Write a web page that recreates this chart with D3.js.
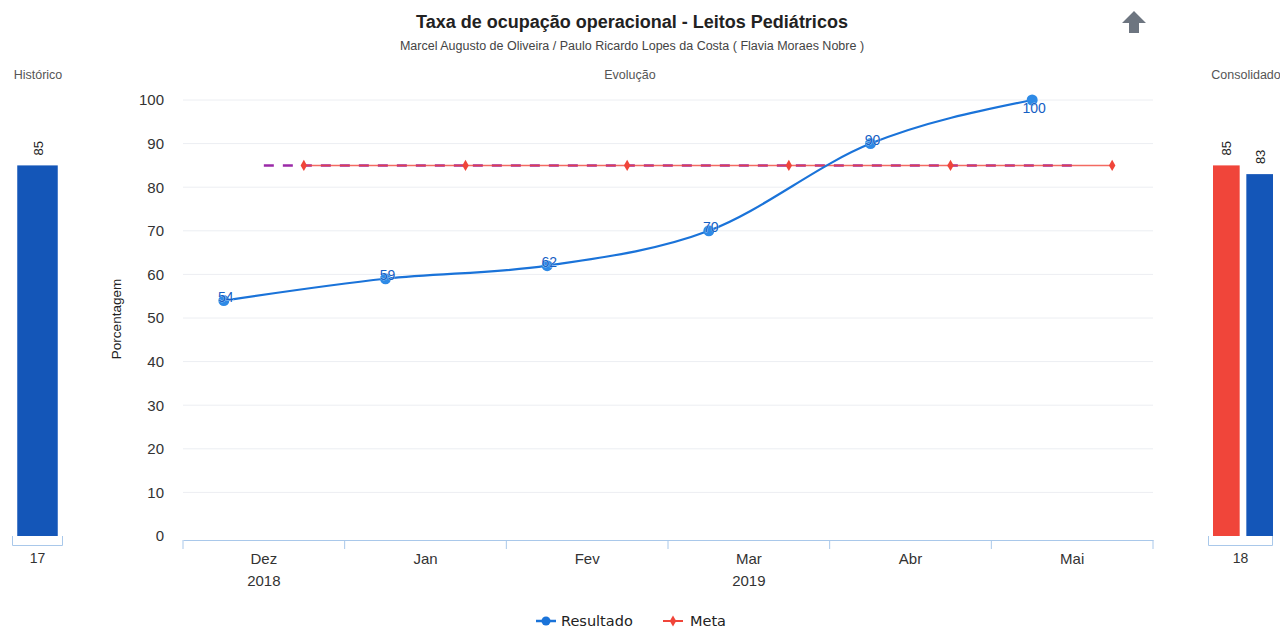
<!DOCTYPE html>
<html><head><meta charset="utf-8">
<script src="https://cdn.jsdelivr.net/npm/d3@7"></script>
<style>body{margin:0;background:#fff;font-family:"Liberation Sans",Arial,sans-serif}</style>
</head><body><svg id="c" width="1280" height="628"></svg>
<script>
const months = ["Dez","Jan","Fev","Mar","Abr","Mai"];
const years = [{label:"2018", month:"Dez"},{label:"2019", month:"Mar"}];
const resultado = [54,59,62,70,90,100];
const meta = [85,85,85,85,85,85];
const metaAvg = 85;
const yTicks = [0,10,20,30,40,50,60,70,80,90,100];
const historico = [{cat:"17", value:85}];
const consolidado = [{cat:"18", meta:85, resultado:83}];

const svg = d3.select("#c");
const blue = "#1a73d9", blueBar = "#1456b8", red = "#f0453a", purple = "#9b2aa8";
const FF = "Liberation Sans, Arial, sans-serif";

svg.append("text").attr("x",632).attr("y",28).attr("text-anchor","middle")
  .attr("font-size",18).attr("font-weight","bold").attr("fill","#222").text("Taxa de ocupação operacional - Leitos Pediátricos");
svg.append("text").attr("x",632).attr("y",50).attr("text-anchor","middle")
  .attr("font-size",12.5).attr("fill","#444").text("Marcel Augusto de Oliveira / Paulo Ricardo Lopes da Costa ( Flavia Moraes Nobre )");
svg.append("text").attr("x",630).attr("y",79).attr("text-anchor","middle").attr("font-size",12.5).attr("fill","#555").text("Evolução");
svg.append("text").attr("x",38).attr("y",79).attr("text-anchor","middle").attr("font-size",12.5).attr("fill","#555").text("Histórico");
svg.append("text").attr("x",1246).attr("y",79).attr("text-anchor","middle").attr("font-size",12.5).attr("fill","#555").text("Consolidado");

// up arrow
svg.append("path").attr("d","M1134,11 L1146,23 L1139,23 L1139,33 L1129,33 L1129,23 L1122,23 Z").attr("fill","#6d7580");

// main chart
const y = d3.scaleLinear().domain([0,100]).range([536,100]);
const x = d3.scaleBand().domain(months).range([183,1153]);
const off = 40;

const g = svg.append("g");
g.selectAll(".grid").data(yTicks.filter(d=>d>0)).join("line")
  .attr("x1",183).attr("x2",1153).attr("y1",d=>y(d)).attr("y2",d=>y(d))
  .attr("stroke","#eceef2").attr("stroke-width",1);

const yAxis = d3.axisLeft(y).tickValues(yTicks).tickSize(0).tickPadding(0);
const ya = svg.append("g").attr("transform","translate(164,0)").call(yAxis);
ya.select(".domain").remove();
ya.selectAll("text").attr("font-size",15).attr("fill","#333").attr("font-family",FF);

svg.append("text").attr("transform","translate(121,319) rotate(-90)").attr("text-anchor","middle")
  .attr("font-size",13.5).attr("fill","#222").text("Porcentagem");

const xAxis = d3.axisBottom(x).tickSize(0).tickPadding(13);
const xa = svg.append("g").attr("transform","translate(0,540)").call(xAxis);
xa.select(".domain").attr("stroke","#a9c8ea");
xa.selectAll("text").attr("font-size",15).attr("fill","#333").attr("font-family",FF);
const bounds = months.map(m=>x(m)).concat([x(months[months.length-1])+x.bandwidth()]);
svg.append("g").selectAll("line").data(bounds).join("line")
  .attr("x1",d=>d).attr("x2",d=>d).attr("y1",540).attr("y2",549).attr("stroke","#a9c8ea");
svg.selectAll(".yr").data(years).join("text").attr("x",d=>x(d.month)+x.bandwidth()/2).attr("y",586)
  .attr("text-anchor","middle").attr("font-size",15).attr("fill","#333").text(d=>d.label);

const cx = (m)=>x(m)+x.bandwidth()/2;

// purple dashed avg line
svg.append("line").attr("x1",cx(months[0])).attr("x2",cx(months[months.length-1]))
  .attr("y1",y(metaAvg)).attr("y2",y(metaAvg)).attr("stroke",purple).attr("stroke-width",2.5).attr("stroke-dasharray","10,9");

// meta line
const metaLine = d3.line().x((d,i)=>cx(months[i])+off).y(d=>y(d));
svg.append("path").attr("d",metaLine(meta)).attr("fill","none").attr("stroke",red).attr("stroke-width",1.5).attr("opacity",0.8);
svg.selectAll(".mp").data(meta).join("path")
  .attr("d",d3.symbol(d3.symbolDiamond,36)()).attr("transform",(d,i)=>`translate(${cx(months[i])+off},${y(d)})`).attr("fill",red);

// resultado line
const resLine = d3.line().x((d,i)=>cx(months[i])-off).y(d=>y(d)).curve(d3.curveMonotoneX);
svg.append("path").attr("d",resLine(resultado)).attr("fill","none").attr("stroke",blue).attr("stroke-width",2.2);
svg.selectAll(".rp").data(resultado).join("circle")
  .attr("cx",(d,i)=>cx(months[i])-off).attr("cy",d=>y(d)).attr("r",5.5).attr("fill","#2e8ae6");
svg.selectAll(".rl").data(resultado).join("text")
  .attr("x",(d,i)=>cx(months[i])-off+2).attr("y",d=>d>=100? y(d)+13 : y(d)+1)
  .attr("text-anchor","middle").attr("font-size",14).attr("fill","#1560c4")
  .attr("stroke","#fff").attr("stroke-width",0.4).attr("paint-order","stroke").text(d=>d);

// historico
const xh = d3.scaleBand().domain(historico.map(d=>d.cat)).range([12,63]).paddingInner(0).paddingOuter(0.1);
svg.selectAll(".hb").data(historico).join("rect")
  .attr("x",d=>xh(d.cat)+1).attr("width",xh.bandwidth()-2).attr("y",d=>y(d.value)).attr("height",d=>536-y(d.value)).attr("fill",blueBar);
svg.selectAll(".hl").data(historico).join("text")
  .attr("transform",d=>`translate(${xh(d.cat)+xh.bandwidth()/2+5},${y(d.value)-10}) rotate(-90)`)
  .attr("font-size",13).attr("fill","#222").text(d=>d.value);
const ha = svg.append("g").attr("transform","translate(0,545)").call(d3.axisBottom(xh).tickSize(0).tickPadding(8));
ha.select(".domain").attr("stroke","#a9c8ea").attr("d","M12.5,-9V0.5H62.5V-9");
ha.selectAll("text").attr("font-size",14).attr("fill","#333").attr("font-family",FF);

// consolidado
const xc = d3.scaleBand().domain(consolidado.map(d=>d.cat)).range([1208,1273]);
const sub = d3.scaleBand().domain(["meta","resultado"]).range([5,65]).paddingInner(0.2);
const cdata = consolidado.flatMap(d=>[{k:"meta",v:d.meta,cat:d.cat},{k:"resultado",v:d.resultado,cat:d.cat}]);
svg.selectAll(".cb").data(cdata).join("rect")
  .attr("x",d=>xc(d.cat)+sub(d.k)).attr("width",sub.bandwidth()).attr("y",d=>y(d.v)).attr("height",d=>536-y(d.v))
  .attr("fill",d=>d.k==="meta"?red:blueBar);
svg.selectAll(".cl").data(cdata).join("text")
  .attr("transform",d=>`translate(${xc(d.cat)+sub(d.k)+sub.bandwidth()/2+5},${y(d.v)-10}) rotate(-90)`)
  .attr("font-size",13).attr("fill","#222").text(d=>d.v);
const ca = svg.append("g").attr("transform","translate(0,545)").call(d3.axisBottom(xc).tickSize(0).tickPadding(8));
ca.select(".domain").attr("stroke","#a9c8ea").attr("d","M1208.5,-9V0.5H1272.5V-9");
ca.selectAll("text").attr("font-size",14).attr("fill","#333").attr("font-family",FF);

// legend
const lg = svg.append("g").attr("transform","translate(0,621)");
lg.append("line").attr("x1",536).attr("x2",556).attr("stroke",blue).attr("stroke-width",2.5);
lg.append("circle").attr("cx",546).attr("r",4.5).attr("fill",blue);
lg.append("text").attr("x",561).attr("y",5).attr("font-size",14.5).attr("fill","#222").attr("font-family","DejaVu Sans, sans-serif").text("Resultado");
lg.append("line").attr("x1",663).attr("x2",683).attr("stroke",red).attr("stroke-width",2);
lg.append("path").attr("d",d3.symbol(d3.symbolDiamond,36)()).attr("transform","translate(673,0)").attr("fill",red);
lg.append("text").attr("x",690).attr("y",5).attr("font-size",14.5).attr("fill","#222").attr("font-family","DejaVu Sans, sans-serif").text("Meta");
</script></body></html>
